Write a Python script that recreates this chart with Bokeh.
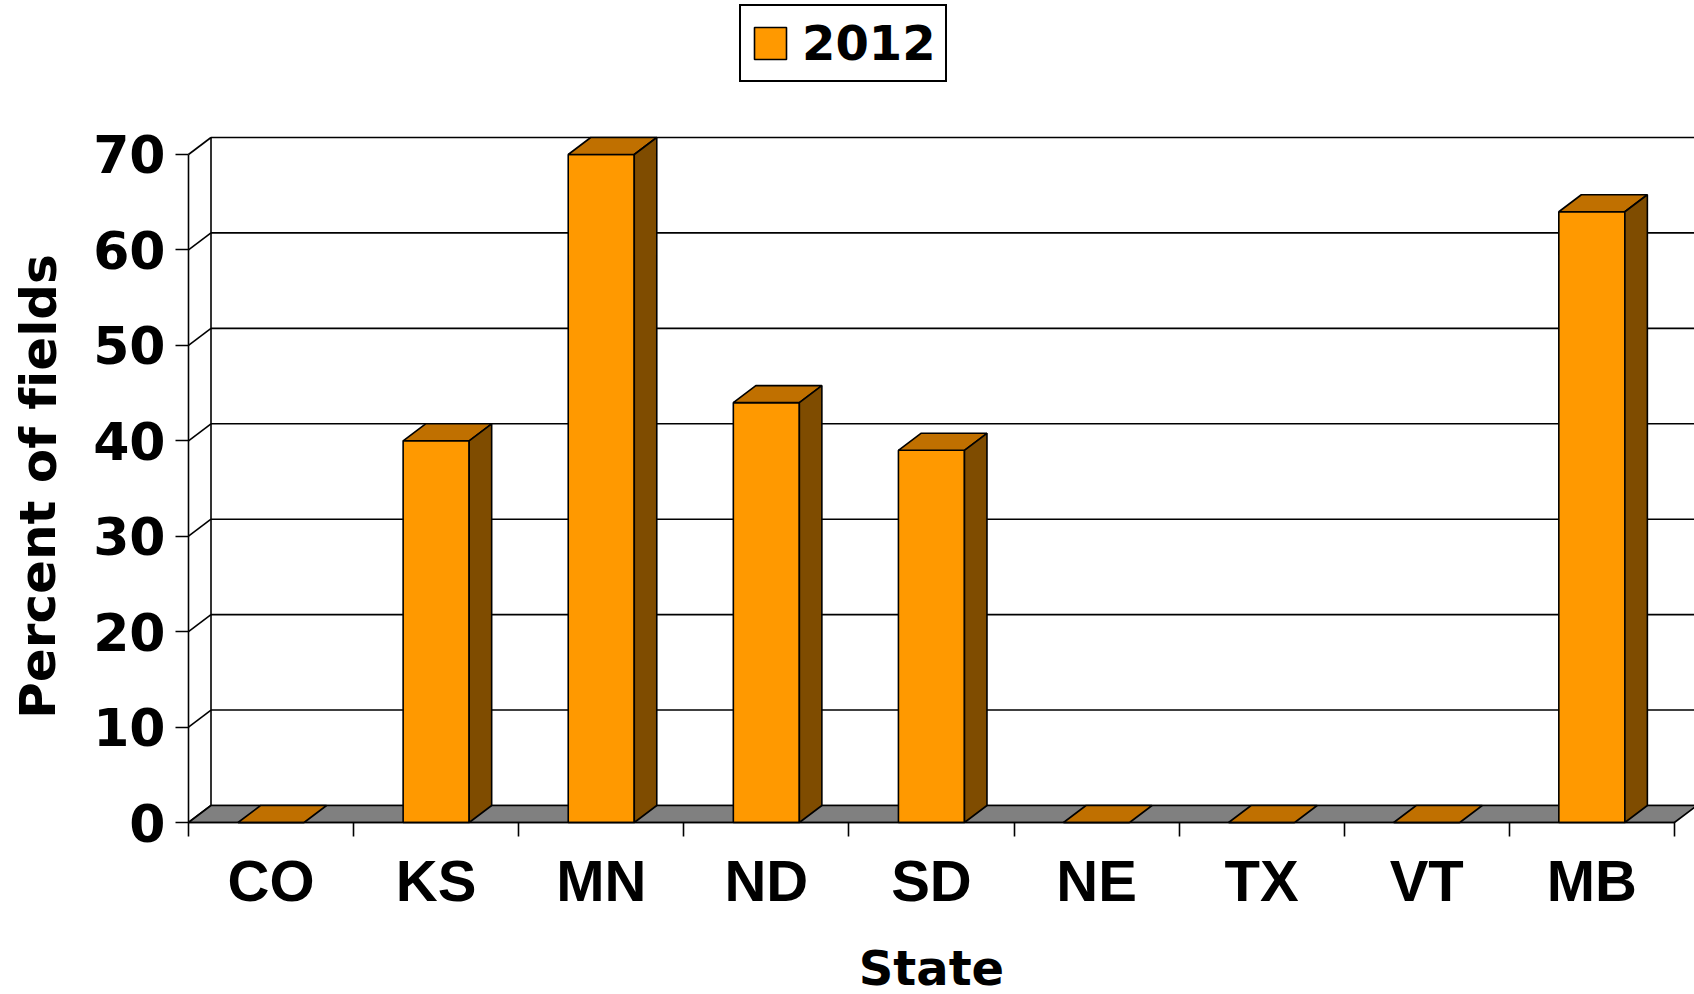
from bokeh.plotting import figure
from bokeh.models import Range1d, FixedTicker, Legend, LegendItem, Label
from bokeh.embed import file_html
from bokeh.resources import INLINE

# ---- data ----
states = ["CO", "KS", "MN", "ND", "SD", "NE", "TX", "VT", "MB"]
values = [0, 40, 70, 44, 39, 0, 0, 0, 64]
y_ticks = [0, 10, 20, 30, 40, 50, 60, 70]
series_name = "2012"
y_title = "Percent of f\u200cields"
x_title = "State"

# ---- layout (screen pixels) ----
W, H = 1694, 994
AXIS_X_PX, AXIS_Y_PX = 188, 822      # where the front axes meet
CAT_PX = 165.1                        # width of one category
PX_PER_UNIT = 9.543                   # pixels per percent
x_start = -0.5 - AXIS_X_PX / CAT_PX
x_end = x_start + W / CAT_PX
y_start = -(H - AXIS_Y_PX) / PX_PER_UNIT
y_end = AXIS_Y_PX / PX_PER_UNIT
DX = 22.5 / CAT_PX
DY = 17.0 / PX_PER_UNIT
BAR_W = 0.4
n = len(states)
y_max = y_ticks[-1]
x_first, x_last = -0.5, n - 0.5

FRONT = "#FF9900"
TOPC = "#C07000"
SIDE = "#7F4C00"
FLOOR = "#808080"
LW = 1.6

p = figure(width=W, height=H, x_range=Range1d(x_start, x_end), y_range=Range1d(y_start, y_end),
           output_backend="svg", toolbar_location=None,
           min_border_left=0, min_border_right=0, min_border_top=0, min_border_bottom=0)
p.outline_line_color = None
p.xgrid.visible = False
p.ygrid.visible = False
p.background_fill_color = "white"
p.border_fill_color = "white"

# back wall gridlines
p.segment(x0=[x_first + DX] * len(y_ticks), y0=[t + DY for t in y_ticks],
          x1=[x_end + 1] * len(y_ticks), y1=[t + DY for t in y_ticks],
          line_color="black", line_width=LW)
# side wall diagonals
p.segment(x0=[x_first] * len(y_ticks), y0=y_ticks,
          x1=[x_first + DX] * len(y_ticks), y1=[t + DY for t in y_ticks],
          line_color="black", line_width=LW)
# back-left vertical edge
p.segment(x0=[x_first + DX], y0=[DY], x1=[x_first + DX], y1=[y_max + DY],
          line_color="black", line_width=LW)
# floor
p.patch([x_first, x_last, x_last + DX, x_first + DX], [0, 0, DY, DY],
        fill_color=FLOOR, line_color="black", line_width=LW)

# bars
lefts = [i - BAR_W / 2 for i in range(n)]
rights = [i + BAR_W / 2 for i in range(n)]
bars = p.quad(left=lefts, right=rights, bottom=[0] * n, top=values,
              fill_color=FRONT, line_color="black", line_width=LW)
top_xs = [[l, r, r + DX, l + DX] for l, r in zip(lefts, rights)]
top_ys = [[v, v, v + DY, v + DY] for v in values]
p.patches(top_xs, top_ys, fill_color=TOPC, line_color="black", line_width=LW)
side_xs = [[r, r + DX, r + DX, r] for r, v in zip(rights, values) if v > 0]
side_ys = [[0, DY, v + DY, v] for v in values if v > 0]
p.patches(side_xs, side_ys, fill_color=SIDE, line_color="black", line_width=LW)

# y axis (drawn at the front-left corner of the chart)
ya = p.yaxis[0]
ya.fixed_location = x_first
ya.ticker = FixedTicker(ticks=y_ticks)
ya.bounds = (0, y_max)
ya.axis_line_color = "black"
ya.axis_line_width = LW
ya.major_tick_out = 13
ya.major_tick_in = 0
ya.major_tick_line_width = LW
ya.minor_tick_out = 0
ya.minor_tick_in = 0
ya.major_label_text_font = "DejaVu Sans"
ya.major_label_text_font_style = "bold"
ya.major_label_text_font_size = "52px"
ya.major_label_text_color = "black"
ya.major_label_standoff = 10

# x axis (drawn along the front floor edge)
xa = p.xaxis[0]
xa.fixed_location = 0
xa.ticker = FixedTicker(ticks=list(range(n)), minor_ticks=[i - 0.5 for i in range(n + 1)])
xa.major_label_overrides = {i: s for i, s in enumerate(states)}
xa.bounds = (x_first, x_last)
xa.axis_line_color = "black"
xa.axis_line_width = LW
xa.major_tick_out = 0
xa.major_tick_in = 0
xa.minor_tick_out = 14
xa.minor_tick_in = 0
xa.minor_tick_line_width = LW
xa.minor_tick_line_color = "black"
xa.major_label_text_font = "Liberation Sans"
xa.major_label_text_font_style = "bold"
xa.major_label_text_font_size = "58px"
xa.major_label_text_color = "black"
xa.major_label_standoff = 11

# axis titles
p.add_layout(Label(x=x_first - (AXIS_X_PX - 38) / CAT_PX, y=(AXIS_Y_PX - 486) / PX_PER_UNIT,
                   text=y_title, angle=1.5707963, text_align="center", text_baseline="middle",
                   text_font="DejaVu Sans", text_font_style="bold", text_font_size="50px",
                   text_color="black"))
p.add_layout(Label(x=(n - 1) / 2, y=-(967 - AXIS_Y_PX) / PX_PER_UNIT,
                   text=x_title, text_align="center", text_baseline="middle",
                   text_font="DejaVu Sans", text_font_style="bold", text_font_size="48px",
                   text_color="black"))

# legend
legend = Legend(items=[LegendItem(label=series_name, renderers=[bars])],
                location=(739, H - 82), orientation="horizontal")
legend.label_text_font = "DejaVu Sans"
legend.label_text_font_style = "bold"
legend.label_text_font_size = "48px"
legend.label_text_color = "black"
legend.glyph_width = 40
legend.glyph_height = 40
legend.label_standoff = 12
legend.padding = 9
legend.margin = 0
legend.border_line_color = "black"
legend.border_line_alpha = 1.0
legend.border_line_width = 2
legend.background_fill_color = "white"
legend.background_fill_alpha = 1.0
p.add_layout(legend)

open("out.html", "w").write(file_html(p, INLINE))
